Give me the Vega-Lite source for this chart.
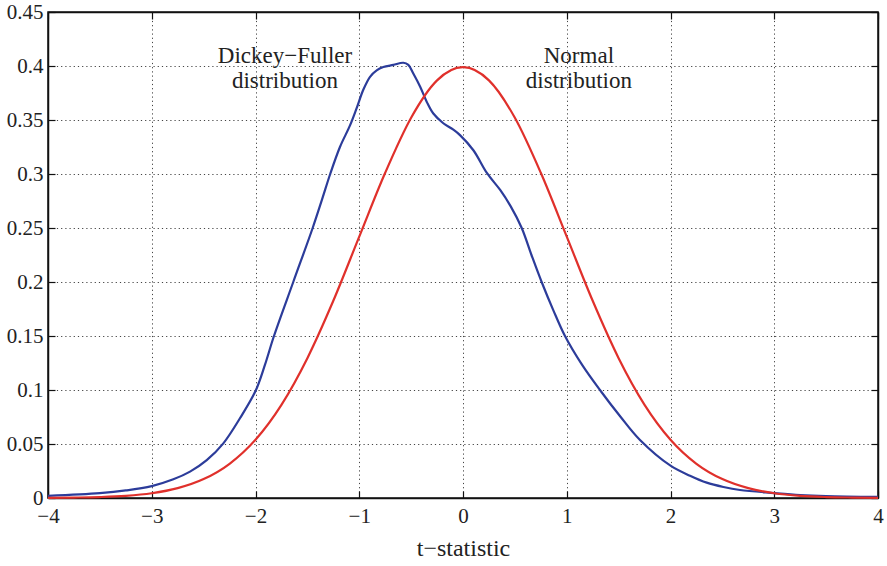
{
  "$schema": "https://vega.github.io/schema/vega-lite/v6.json",
  "autosize": "none",
  "width": 830,
  "height": 486,
  "padding": {"left": 48, "top": 12, "right": 9, "bottom": 68},
  "background": "white",
  "config": {
    "view": {"stroke": "#111", "strokeWidth": 1.5},
    "axis": {
      "labelFont": "Liberation Serif",
      "titleFont": "Liberation Serif",
      "labelFontSize": 21,
      "titleFontSize": 24,
      "titleFontWeight": "normal",
      "labelColor": "#222",
      "titleColor": "#222",
      "domainColor": "#111",
      "domainWidth": 1.5,
      "tickColor": "#111",
      "tickWidth": 1.2,
      "tickSize": -7,
      "gridColor": "#444",
      "gridDash": [1.2, 3],
      "gridWidth": 1
    }
  },
  "datasets": {
    "curves": [
      {"t": -4.0, "density": 0.002, "series": "Dickey-Fuller"},
      {"t": -3.5, "density": 0.0045, "series": "Dickey-Fuller"},
      {"t": -3.25, "density": 0.007, "series": "Dickey-Fuller"},
      {"t": -3.0, "density": 0.011, "series": "Dickey-Fuller"},
      {"t": -2.792, "density": 0.0173, "series": "Dickey-Fuller"},
      {"t": -2.631, "density": 0.0244, "series": "Dickey-Fuller"},
      {"t": -2.47, "density": 0.035, "series": "Dickey-Fuller"},
      {"t": -2.31, "density": 0.0506, "series": "Dickey-Fuller"},
      {"t": -2.15, "density": 0.0738, "series": "Dickey-Fuller"},
      {"t": -2.0, "density": 0.099, "series": "Dickey-Fuller"},
      {"t": -1.91, "density": 0.123, "series": "Dickey-Fuller"},
      {"t": -1.822, "density": 0.15, "series": "Dickey-Fuller"},
      {"t": -1.636, "density": 0.2, "series": "Dickey-Fuller"},
      {"t": -1.449, "density": 0.25, "series": "Dickey-Fuller"},
      {"t": -1.36, "density": 0.276, "series": "Dickey-Fuller"},
      {"t": -1.28, "density": 0.3, "series": "Dickey-Fuller"},
      {"t": -1.186, "density": 0.325, "series": "Dickey-Fuller"},
      {"t": -1.089, "density": 0.345, "series": "Dickey-Fuller"},
      {"t": -1.025, "density": 0.361, "series": "Dickey-Fuller"},
      {"t": -0.961, "density": 0.378, "series": "Dickey-Fuller"},
      {"t": -0.896, "density": 0.39, "series": "Dickey-Fuller"},
      {"t": -0.832, "density": 0.396, "series": "Dickey-Fuller"},
      {"t": -0.768, "density": 0.399, "series": "Dickey-Fuller"},
      {"t": -0.672, "density": 0.401, "series": "Dickey-Fuller"},
      {"t": -0.575, "density": 0.403, "series": "Dickey-Fuller"},
      {"t": -0.527, "density": 0.401, "series": "Dickey-Fuller"},
      {"t": -0.479, "density": 0.393, "series": "Dickey-Fuller"},
      {"t": -0.414, "density": 0.381, "series": "Dickey-Fuller"},
      {"t": -0.35, "density": 0.367, "series": "Dickey-Fuller"},
      {"t": -0.286, "density": 0.356, "series": "Dickey-Fuller"},
      {"t": -0.19, "density": 0.347, "series": "Dickey-Fuller"},
      {"t": -0.093, "density": 0.341, "series": "Dickey-Fuller"},
      {"t": -0.029, "density": 0.336, "series": "Dickey-Fuller"},
      {"t": 0.1, "density": 0.322, "series": "Dickey-Fuller"},
      {"t": 0.23, "density": 0.301, "series": "Dickey-Fuller"},
      {"t": 0.36, "density": 0.285, "series": "Dickey-Fuller"},
      {"t": 0.46, "density": 0.27, "series": "Dickey-Fuller"},
      {"t": 0.566, "density": 0.25, "series": "Dickey-Fuller"},
      {"t": 0.66, "density": 0.225, "series": "Dickey-Fuller"},
      {"t": 0.758, "density": 0.2, "series": "Dickey-Fuller"},
      {"t": 0.87, "density": 0.174, "series": "Dickey-Fuller"},
      {"t": 0.983, "density": 0.15, "series": "Dickey-Fuller"},
      {"t": 1.15, "density": 0.123, "series": "Dickey-Fuller"},
      {"t": 1.32, "density": 0.1, "series": "Dickey-Fuller"},
      {"t": 1.52, "density": 0.075, "series": "Dickey-Fuller"},
      {"t": 1.706, "density": 0.0537, "series": "Dickey-Fuller"},
      {"t": 2.0, "density": 0.0299, "series": "Dickey-Fuller"},
      {"t": 2.188, "density": 0.0206, "series": "Dickey-Fuller"},
      {"t": 2.349, "density": 0.0142, "series": "Dickey-Fuller"},
      {"t": 2.51, "density": 0.0102, "series": "Dickey-Fuller"},
      {"t": 2.67, "density": 0.0074, "series": "Dickey-Fuller"},
      {"t": 3.0, "density": 0.0046, "series": "Dickey-Fuller"},
      {"t": 3.25, "density": 0.0028, "series": "Dickey-Fuller"},
      {"t": 3.5, "density": 0.0018, "series": "Dickey-Fuller"},
      {"t": 4.0, "density": 0.001, "series": "Dickey-Fuller"},
      {"t": -4.0, "density": 0.0001, "series": "Normal"},
      {"t": -3.75, "density": 0.0004, "series": "Normal"},
      {"t": -3.5, "density": 0.0009, "series": "Normal"},
      {"t": -3.25, "density": 0.002, "series": "Normal"},
      {"t": -3.0, "density": 0.0044, "series": "Normal"},
      {"t": -2.75, "density": 0.0091, "series": "Normal"},
      {"t": -2.5, "density": 0.0175, "series": "Normal"},
      {"t": -2.25, "density": 0.0317, "series": "Normal"},
      {"t": -2.0, "density": 0.054, "series": "Normal"},
      {"t": -1.75, "density": 0.0863, "series": "Normal"},
      {"t": -1.5, "density": 0.1295, "series": "Normal"},
      {"t": -1.25, "density": 0.1826, "series": "Normal"},
      {"t": -1.0, "density": 0.242, "series": "Normal"},
      {"t": -0.75, "density": 0.3011, "series": "Normal"},
      {"t": -0.5, "density": 0.3521, "series": "Normal"},
      {"t": -0.25, "density": 0.3867, "series": "Normal"},
      {"t": 0.0, "density": 0.3989, "series": "Normal"},
      {"t": 0.25, "density": 0.3867, "series": "Normal"},
      {"t": 0.5, "density": 0.3521, "series": "Normal"},
      {"t": 0.75, "density": 0.3011, "series": "Normal"},
      {"t": 1.0, "density": 0.242, "series": "Normal"},
      {"t": 1.25, "density": 0.1826, "series": "Normal"},
      {"t": 1.5, "density": 0.1295, "series": "Normal"},
      {"t": 1.75, "density": 0.0863, "series": "Normal"},
      {"t": 2.0, "density": 0.054, "series": "Normal"},
      {"t": 2.25, "density": 0.0317, "series": "Normal"},
      {"t": 2.5, "density": 0.0175, "series": "Normal"},
      {"t": 2.75, "density": 0.0091, "series": "Normal"},
      {"t": 3.0, "density": 0.0044, "series": "Normal"},
      {"t": 3.25, "density": 0.002, "series": "Normal"},
      {"t": 3.5, "density": 0.0009, "series": "Normal"},
      {"t": 3.75, "density": 0.0004, "series": "Normal"},
      {"t": 4.0, "density": 0.0001, "series": "Normal"}
    ],
    "labels": [
      {"t": -1.716, "density": 0.4025, "label": "Dickey−Fuller"},
      {"t": -1.716, "density": 0.3794, "label": "distribution"},
      {"t": 1.117, "density": 0.4025, "label": "Normal"},
      {"t": 1.117, "density": 0.3794, "label": "distribution"}
    ]
  },
  "layer": [
    {
      "data": {"name": "curves"},
      "transform": [{"filter": "datum.series === 'Dickey-Fuller'"}],
      "mark": {"type": "line", "interpolate": "catmull-rom", "color": "#2c3c9a", "strokeWidth": 2.2},
      "encoding": {
        "x": {
          "field": "t", "type": "quantitative",
          "scale": {"domain": [-4, 4], "nice": false, "zero": false},
          "axis": {"orient": "bottom", "values": [-4, -3, -2, -1, 0, 1, 2, 3, 4], "title": "t−statistic", "grid": true, "labelPadding": 14, "titlePadding": 10, "labelFlush": false}
        },
        "y": {
          "field": "density", "type": "quantitative",
          "scale": {"domain": [0, 0.45], "nice": false},
          "axis": {"orient": "left", "values": [0, 0.05, 0.1, 0.15, 0.2, 0.25, 0.3, 0.35, 0.4, 0.45], "format": "~g", "title": null, "grid": true, "labelPadding": 12, "labelFlush": false}
        }
      }
    },
    {
      "data": {"name": "curves"},
      "transform": [{"filter": "datum.series === 'Normal'"}],
      "mark": {"type": "line", "interpolate": "monotone", "color": "#e0302b", "strokeWidth": 2.2},
      "encoding": {
        "x": {"field": "t", "type": "quantitative", "axis": null},
        "y": {"field": "density", "type": "quantitative", "axis": null}
      }
    },
    {
      "data": {"name": "labels"},
      "mark": {"type": "text", "font": "Liberation Serif", "fontSize": 23, "color": "#222", "align": "center", "baseline": "alphabetic"},
      "encoding": {
        "x": {
          "field": "t", "type": "quantitative",
          "axis": {"orient": "top", "values": [-4, -3, -2, -1, 0, 1, 2, 3, 4], "labels": false, "title": null, "grid": false}
        },
        "y": {
          "field": "density", "type": "quantitative",
          "axis": {"orient": "right", "values": [0, 0.05, 0.1, 0.15, 0.2, 0.25, 0.3, 0.35, 0.4, 0.45], "labels": false, "title": null, "grid": false}
        },
        "text": {"field": "label", "type": "nominal"}
      }
    }
  ],
  "resolve": {"axis": {"x": "independent", "y": "independent"}}
}
